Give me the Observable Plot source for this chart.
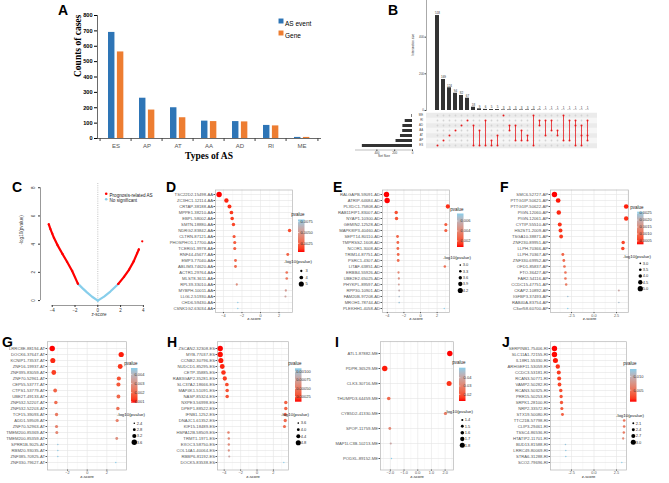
<!DOCTYPE html>
<html><head><meta charset="utf-8">
<script src="https://cdn.jsdelivr.net/npm/d3@7"></script>
<script src="https://cdn.jsdelivr.net/npm/@observablehq/plot@0.6"></script>
<style>
body{margin:0;background:#fff;}
#fig{position:relative;width:669px;height:483px;overflow:hidden;background:#fff;font-family:'Liberation Sans',Arial,Helvetica,sans-serif;}
.letter{position:absolute;font-weight:bold;font-size:14px;line-height:14px;color:#000;}
</style></head><body><div id="fig"></div>
<script>
// ---------------- Panel A ----------------
const asTypes = ["ES","AP","AT","AA","AD","RI","ME"];
const asEventCounts = [690,262,200,113,110,85,7];
const asGeneCounts = [563,185,135,110,108,82,7];
const countTicks = [0,100,200,300,400,500,600,700,800];

// ---------------- Panel B (UpSet) ----------------
const upsetSets = ["ME","RI","AD","AA","AT","AP","ES"];
const upsetSetSizes = [7,82,108,110,135,185,563];
const upsetIntersections = [["ES"],["AP"],["AT"],["AA"],["AD"],["RI"],["AD","ES"],["AA","ES"],["RI","ES"],["AP","ES"],["AT","ES"],["ME"],["AD","AA"],["AD","AP"],["AA","AP"],["AT","AP"],["ME","ES"],["RI","AD"],["RI","AT"],["RI","AA"],["AA","AT"],["ME","AP"],["RI","AP"],["RI","AD","ES"],["AD","AT","ES"],["RI","AT","AP"]];
const upsetCounts = [518,169,124,94,82,67,18,9,6,5,5,3,3,3,3,3,3,2,1,1,1,1,1,1,1,1];
const intersectionTicks = [0,200,400];
const setSizeTicks = [0,200,400];

// ---------------- Panel C (volcano) ----------------
const volLeftSigZ = [-4.30,-4.15,-4.00,-3.85,-3.55,-3.10,-2.70,-2.25,-1.75];
const volLeftSigY = [5.40,5.05,4.75,4.45,3.95,3.30,2.75,2.10,1.20];
const volLeftNsZ = [-1.75,-1.35,-0.95,-0.50,0];
const volLeftNsY = [1.20,0.88,0.58,0.27,0];
const volRightNsZ = [0,0.55,1.10,1.80];
const volRightNsY = [0,0.28,0.64,1.18];
const volRightSigZ = [1.80,2.30,2.75,3.15,3.45,3.60];
const volRightSigY = [1.18,1.68,2.20,2.78,3.35,3.62];
const volOutlierZ = [3.90];
const volOutlierY = [4.20];
const volXTicks = [-4,-2,0,2,4];
const volYTicks = [0,2,4,6,8];

// ---------------- Panel D (AA) ----------------
const dLabels = ["TSC22D2-15498-AA","ZC3HC1-12114-AA","CRTAP-38188-AA","MPPE1-38210-AA","EBPL-58002-AA","SMTN-18880-AA","NDRG2-83842-AA","CLTRN-87121-AA","PHOSPHO1-17700-AA","TCERG1-9978-AA","RNF44-45677-AA","EMP3-77040-AA","ABLIM3-74620-AA","ACTR1-29764-AA","MLST8-3611-AA","RPL39-33010-AA","MYBPH-10011-AA","LLGL2-51930-AA","CHD6-59430-AA","CSNK1G2-63034-AA"];
const dZ = [-4.47,-3.68,-3.35,-3.14,-3.06,-2.92,3.14,-2.85,-2.78,-2.78,2.95,-2.70,-2.70,2.84,2.84,-2.56,2.74,2.70,-2.45,-2.45];
const dP = [0.0005,0.0008,0.0010,0.0012,0.0013,0.0015,0.0017,0.0020,0.0022,0.0023,0.0025,0.0027,0.0028,0.0032,0.0034,0.0045,0.0052,0.0056,0.0078,0.0080];
const dS = [5.2,4.5,4.2,4.0,3.9,3.8,3.8,3.6,3.6,3.6,3.5,3.4,3.4,3.3,3.3,3.0,3.0,2.9,2.4,2.4];
const dPTicks = ["0.0025","0.0050","0.0075"];
const dSizeBreaks = ["3","4","5"];

// ---------------- Panel E (AD) ----------------
const eLabels = ["RALGAPB-59091-AD","ATRIP-64684-AD","PLXDC1-75808-AD","RAB11FIP1-83007-AD","NYAP1-10300-AD","GEMIN2-12528-AD","MAPK8IP3-40460-AD","SEPT14-80110-AD","TMPRSS2-1608-AD","NCOR1-3008-AD","TRIM14-87751-AD","PSRC1-4307-AD","LITAF-63851-AD","ERBB4-55926-AD","UBE2E2-65025-AD","PHYKPL-89597-AD","RPP30-10901-AD","FAM20B-97208-AD","MROH1-78744-AD","PLEKHH1-4058-AD"];
const eZ = [-4.10,-4.02,3.29,-2.93,-2.89,3.05,3.05,-2.77,-2.73,-2.73,-2.69,-2.69,2.93,-2.65,-2.61,-2.61,-2.57,-2.57,-2.57,2.86];
const eP = [0.0008,0.0008,0.0012,0.0020,0.0021,0.0024,0.0024,0.0027,0.0027,0.0028,0.0028,0.0029,0.0031,0.0040,0.0045,0.0052,0.0058,0.0066,0.0070,0.0075];
const eS = [4.3,4.3,3.9,3.6,3.6,3.5,3.5,3.4,3.4,3.4,3.4,3.4,3.3,3.2,3.2,3.1,3.1,3.0,3.0,2.9];
const ePTicks = ["0.002","0.004","0.006"];
const eSizeBreaks = ["3.0","3.3","3.6","3.9","4.2"];

// ---------------- Panel F (AP) ----------------
const fLabels = ["SMC6-52727-AP","PTTG1IP-50621-AP","PTTG1IP-50622-AP","PIGN-12060-AP","PIGN-12061-AP","CYTIP-55510-AP","HS2ST1-2009-AP","TSGA10-38871-AP","ZNF230-89951-AP","LLPH-70366-AP","LLPH-70367-AP","ZNF330-69952-AP","OFD1-85837-AP","FTO-36427-AP","FAR2-54116-AP","CCDC15-47751-AP","CKAP2-10892-AP","IGFBP3-37493-AP","RAB40A-83754-AP","C3orf58-60700-AP"];
const fZ = [-4.39,-3.98,3.57,-3.91,3.57,-3.80,-3.72,-3.65,3.24,3.20,-3.46,-3.35,-3.28,-3.17,-3.17,-3.09,2.76,-2.91,2.76,-2.91];
const fP = [0.00026,0.0003,0.00033,0.00036,0.0004,0.00042,0.00045,0.0005,0.00058,0.0006,0.0009,0.0010,0.00105,0.0011,0.0011,0.0012,0.0019,0.0024,0.0023,0.0026];
const fS = [5.1,4.7,4.6,4.55,4.5,4.3,4.25,4.2,4.0,4.0,3.7,3.6,3.55,3.5,3.5,3.45,3.1,2.9,2.9,2.8];
const fPTicks = ["0.0005","0.0010","0.0015","0.0020","0.0025"];
const fSizeBreaks = ["3.0","3.5","4.0","4.5","5.0"];

// ---------------- Panel G (AT) ----------------
const gLabels = ["LRRC8E-88194-AT","DOCK6-37647-AT","KCNIP1-73537-AT","ZNF16-19937-AT","ZNF395-83059-AT","ZNF70-52961-AT","CEP55-53777-AT","CTPS1-53779-AT","UBE2T-49133-AT","ZNF532-52207-AT","ZNF532-52203-AT","TCF15-39093-AT","ADD1-59509-AT","ZNF70-52963-AT","TMEM200-85369-AT","TMEM200-85359-AT","SPRR1B-9025-AT","RBM20-93035-AT","ZNF385-70925-AT","ZNF330-79627-AT"];
const gZ = [-3.56,3.46,-3.50,3.36,-3.40,3.22,3.18,-3.26,3.18,-3.19,3.12,-3.12,3.05,-3.12,-3.09,3.01,-2.99,-2.99,-2.99,2.91];
const gP = [0.0009,0.0010,0.0011,0.0012,0.0013,0.0016,0.0017,0.0019,0.0020,0.0021,0.0022,0.0024,0.0025,0.0026,0.0027,0.0029,0.0045,0.0046,0.0046,0.0047];
const gS = [3.6,3.55,3.5,3.45,3.4,3.2,3.2,3.1,3.1,3.0,3.0,2.95,2.9,2.9,2.85,2.8,2.4,2.4,2.4,2.35];
const gPTicks = ["0.001","0.002","0.003","0.004"];
const gSizeBreaks = ["2.4","2.8","3.2","3.6"];

// ---------------- Panel H (ES) ----------------
const hLabels = ["ZSCAN2-32308-ES","MYB-77037-ES","CCNB2-30796-ES","NUDCD1-85295-ES","CETP-35885-ES","RAB3GAP2-35281-ES","SLC37A2-18666-ES","MAP4K1-51091-ES","NASP-85324-ES","NXPE3-56998-ES","DPEP1-88522-ES","IFNB1-1252-ES","DNAJC1-61352-ES","KIF15-18489-ES","HSPA12B-58509-ES","TRMT1-1971-ES","EXOC3-58750-ES","COL14A1-40064-ES","RBBP6-81192-ES","DOCK5-83538-ES"];
const hZ = [-4.49,-4.49,-4.41,-4.24,-4.09,-3.93,-3.68,-3.64,-3.64,3.51,3.51,3.44,3.44,3.35,-3.48,-3.44,-3.44,-3.44,-3.39,3.27];
const hP = [0.0001,0.00011,0.00012,0.00014,0.00017,0.0002,0.00026,0.00028,0.00029,0.00036,0.00037,0.00039,0.0004,0.00042,0.00055,0.0006,0.00062,0.00065,0.0008,0.0011];
const hS = [4.9,4.85,4.8,4.7,4.6,4.5,4.3,4.25,4.25,4.2,4.2,4.15,4.15,4.1,3.9,3.85,3.85,3.8,3.75,3.5];
const hPTicks = ["0.00025","0.00050","0.00075","0.00100"];
const hSizeBreaks = ["3.6","4.0","4.4","4.8"];

// ---------------- Panel I (ME) ----------------
const iLabels = ["ATL1-87882-ME","PDPR-36529-ME","CLK3-30716-ME","THUMPD3-64459-ME","CYB5D2-41330-ME","SPOP-11759-ME","MAP1LC3B-10213-ME","PODXL-89152-ME"];
const iZ = [2.34,-2.41,2.29,-2.12,2.02,-2.04,-1.97,-1.92];
const iP = [0.012,0.013,0.015,0.024,0.028,0.031,0.040,0.052];
const iS = [1.85,1.85,1.8,1.6,1.55,1.5,1.4,1.3];
const iPTicks = ["0.02","0.03","0.04"];
const iSizeBreaks = ["1.4","1.5","1.6","1.7","1.8"];

// ---------------- Panel J (RI) ----------------
const jLabels = ["SERPINB1-75406-RI","SLC11A1-72155-RI","IL18R1-55330-RI","ARHGEF11-53059-RI","CCDC3-53181-RI","RCAN3-50771-RI","VAMP2-50282-RI","RCAN3-50325-RI","PRR15-50253-RI","SRPK1-28100-RI","NRP2-33572-RI","STX19-50080-RI","TTC21B-57798-RI","CLIP3-29461-RI","TSSC4-86536-RI","HTATIP2-11701-RI","BUD13-81588-RI","LRRC49-80069-RI","STRA6-31288-RI","SCO2-79696-RI"];
const jZ = [-4.39,-4.39,-4.28,-4.02,-3.91,-3.87,-3.83,-3.69,-3.65,-3.61,-3.57,-3.50,3.35,3.35,3.31,3.24,-3.17,-3.13,-3.13,3.09];
const jP = [0.00079,0.00085,0.0010,0.0016,0.0019,0.0021,0.0023,0.0028,0.0031,0.0033,0.0035,0.0038,0.0052,0.0054,0.0056,0.0068,0.0120,0.0122,0.0124,0.0127];
const jS = [3.1,3.1,3.0,2.8,2.7,2.7,2.65,2.55,2.5,2.5,2.45,2.4,2.3,2.3,2.25,2.2,2.0,2.0,2.0,1.95];
const jPTicks = ["0.005","0.010"];
const jSizeBreaks = ["2.1","2.4","2.7","3.0"];

// ================= rendering =================
const FONT = "'Liberation Sans', Arial, Helvetica, sans-serif";
const SERIF = "'Liberation Serif', 'Times New Roman', serif";
const W = 669, H = 483;
const fig = document.getElementById("fig");

function overlay(box, options) {
  const svg = Plot.plot({
    width: W, height: H,
    marginLeft: box[0], marginRight: W - box[1],
    marginTop: box[2], marginBottom: H - box[3],
    style: `background: transparent; overflow: visible; font-family: ${FONT};`,
    ...options
  });
  svg.style.position = "absolute";
  svg.style.left = "0px";
  svg.style.top = "0px";
  fig.appendChild(svg);
  return svg;
}

// ---- A ----
{
  const rows = asTypes.map((t, i) => ({type: t, events: asEventCounts[i], genes: asGeneCounts[i]}));
  const box = [97, 320, 15, 138];
  const step = (box[1] - box[0]) / asTypes.length;
  const blue = "#2E75B6", orange = "#ED7D31";
  overlay(box, {
    x: {domain: asTypes, padding: 0, axis: null},
    y: {domain: [0, 800], axis: null},
    marks: [
      Plot.barY(rows, {x: "type", y: "events", fill: blue, insetLeft: 8, insetRight: step - 15.3}),
      Plot.barY(rows, {x: "type", y: "genes", fill: orange, insetLeft: 16.9, insetRight: step - 24.2}),
      Plot.frame({anchor: "left", stroke: "#444", strokeWidth: 0.8}),
      Plot.frame({anchor: "bottom", stroke: "#444", strokeWidth: 0.8}),
      Plot.axisY({ticks: countTicks, tickSize: 3, tickPadding: 2, fontSize: 5.6, fontWeight: "bold", label: null}),
      Plot.axisX({tickSize: 0, tickPadding: 5, fontSize: 6, color: "#555", label: null}),
      Plot.axisX({tickSize: 3, tickFormat: () => "", dx: -step / 2, label: null, color: "#444"}),
      Plot.axisX({ticks: [asTypes[asTypes.length - 1]], tickSize: 3, tickFormat: () => "", dx: step / 2, label: null, color: "#444"}),
      Plot.text(["Types of AS"], {text: d => d, frameAnchor: "bottom", dy: 20, fontSize: 9.5, fontWeight: "bold", fontFamily: SERIF}),
      Plot.text(["Counts of cases"], {text: d => d, frameAnchor: "left", dx: -19.5, rotate: -90, fontSize: 9.5, fontWeight: "bold", fontFamily: SERIF}),
      Plot.dot(["AS event"], {frameAnchor: "top-right", dx: -39.5, dy: 5.5, symbol: "square", r: 2.8, fill: blue}),
      Plot.text(["AS event"], {text: d => d, frameAnchor: "top-right", dx: -35.5, dy: 5.5, textAnchor: "start", fontSize: 6.5}),
      Plot.dot(["Gene"], {frameAnchor: "top-right", dx: -39.5, dy: 17.5, symbol: "square", r: 2.8, fill: orange}),
      Plot.text(["Gene"], {text: d => d, frameAnchor: "top-right", dx: -35.5, dy: 17.5, textAnchor: "start", fontSize: 6.5})
    ]
  });
}

// ---- B ----
{
  const ids = upsetIntersections.map((_, i) => String(i + 1));
  const cols = upsetIntersections.map((sets, i) => {
    const idx = sets.map(s => upsetSets.indexOf(s));
    return {id: ids[i], sets, count: upsetCounts[i], top: upsetSets[d3.min(idx)], bottom: upsetSets[d3.max(idx)]};
  });
  const cells = [];
  cols.forEach(c => upsetSets.forEach(s => cells.push({id: c.id, set: s, on: c.sets.includes(s)})));
  const setRows = upsetSets.map((s, i) => ({set: s, size: upsetSetSizes[i]}));
  const matBox = [426, 597, 111.3, 149.5];
  const rowStep = (matBox[3] - matBox[2]) / upsetSets.length;

  overlay([426, 597, 0, 110], {
    x: {type: "band", domain: ids, padding: 0.4, axis: null},
    y: {domain: [0, 600], axis: null},
    marks: [
      Plot.barY(cols, {x: "id", y: "count", fill: "#333"}),
      Plot.text(cols, {x: "id", y: "count", text: d => String(d.count), dy: -2.2, fontSize: 3, fill: "#333"}),
      Plot.frame({anchor: "left", stroke: "#555", strokeWidth: 0.5}),
      Plot.axisY({ticks: intersectionTicks, tickSize: 1.5, tickPadding: 1, fontSize: 3, label: null, color: "#444"}),
      Plot.text(["Intersection size"], {text: d => d, frameAnchor: "left", dx: -13, rotate: -90, fontSize: 3, fill: "#333"})
    ]
  });

  overlay(matBox, {
    x: {type: "band", domain: ids, padding: 0.4, axis: null},
    y: {type: "point", domain: upsetSets, padding: 0.5, axis: null},
    marks: [
      Plot.ruleY(upsetSets, {y: d => d, filter: (d, i) => i % 2 === 0, stroke: "#ebebeb", strokeWidth: rowStep}),
      Plot.ruleY(upsetSets, {y: d => d, filter: (d, i) => i % 2 === 1, stroke: "#f6f6f6", strokeWidth: rowStep}),
      Plot.dot(cells.filter(d => !d.on), {x: "id", y: "set", r: 0.9, fill: "#d2d2d2"}),
      Plot.ruleX(cols.filter(d => d.sets.length > 1), {x: "id", y1: "top", y2: "bottom", stroke: "#e8474a", strokeWidth: 1}),
      Plot.dot(cells.filter(d => d.on), {x: "id", y: "set", r: 1.0, fill: "#e41a1c"}),
      Plot.axisY({tickSize: 0, tickPadding: 3.5, fontSize: 2.8, label: null, color: "#444"})
    ]
  });

  overlay([355, 412, matBox[2], matBox[3]], {
    x: {domain: [0, 640], reverse: true, axis: null},
    y: {type: "band", domain: upsetSets, padding: 0.42, axis: null},
    marks: [
      Plot.barX(setRows, {y: "set", x: "size", fill: "#333"}),
      Plot.frame({anchor: "bottom", stroke: "#555", strokeWidth: 0.4}),
      Plot.axisX({ticks: setSizeTicks, tickSize: 1.5, tickPadding: 0.8, fontSize: 3, label: null, color: "#444"}),
      Plot.text(["Set Size"], {text: d => d, frameAnchor: "bottom", dy: 7.2, fontSize: 3.2, fill: "#333"})
    ]
  });
}

// ---- C ----
{
  const seg = (name, zs, ys) => zs.map((z, i) => ({seg: name, z, y: ys[i]}));
  const sig = [...seg("L", volLeftSigZ, volLeftSigY), ...seg("R", volRightSigZ, volRightSigY)];
  const ns = [...seg("L", volLeftNsZ, volLeftNsY), ...seg("R", volRightNsZ, volRightNsY)];
  const out = seg("O", volOutlierZ, volOutlierY);
  const xDom = [-5.03, 5.24], yDom = [-0.35, 8.3];
  const red = "#FF0000", sky = "#87CEEB";
  overlay([40, 157, 183, 305], {
    x: {domain: xDom, axis: null},
    y: {domain: yDom, axis: null},
    marks: [
      Plot.ruleX([0], {stroke: "#9a9a9a", strokeDasharray: "1,1.2", strokeWidth: 0.6}),
      Plot.line(ns, {x: "z", y: "y", z: "seg", stroke: sky, strokeWidth: 2.2}),
      Plot.line(sig, {x: "z", y: "y", z: "seg", stroke: red, strokeWidth: 2.2}),
      Plot.dot([...sig, ...out], {x: "z", y: "y", r: 1.15, fill: red}),
      Plot.ruleX([xDom[0]], {y1: volYTicks[0], y2: volYTicks[volYTicks.length - 1], stroke: "#333", strokeWidth: 0.5}),
      Plot.axisY({ticks: volYTicks, tickSize: 2, tickFormat: () => "", label: null, color: "#333"}),
      Plot.text(volYTicks, {x: xDom[0], y: d => d, text: d => String(d), rotate: -90, dx: -6.5, fontSize: 4.5, fill: "#333"}),
      Plot.ruleY([yDom[0]], {x1: volXTicks[0], x2: volXTicks[volXTicks.length - 1], stroke: "#333", strokeWidth: 0.5}),
      Plot.axisX({ticks: volXTicks, tickSize: 2, tickPadding: 1, fontSize: 4.5, label: null, color: "#333"}),
      Plot.text(["z-score"], {text: d => d, frameAnchor: "bottom", dy: 10, fontSize: 4.6, fill: "#333"}),
      Plot.text(["-log10(pvalue)"], {text: d => d, frameAnchor: "left", dx: -19.3, rotate: -90, fontSize: 4.6, fill: "#333"}),
      Plot.dot(["Prognosis-related AS"], {frameAnchor: "top-left", dx: 65.7, dy: 10.3, r: 1.3, fill: red}),
      Plot.text(["Prognosis-related AS"], {text: d => d, frameAnchor: "top-left", dx: 69, dy: 10.3, textAnchor: "start", fontSize: 4.6, fill: "#222"}),
      Plot.dot(["No significant"], {frameAnchor: "top-left", dx: 65.7, dy: 15.7, r: 1.3, fill: sky}),
      Plot.text(["No significant"], {text: d => d, frameAnchor: "top-left", dx: 69, dy: 15.7, textAnchor: "start", fontSize: 4.6, fill: "#222"})
    ]
  });
}

// ---- D..J dot plots ----
const P_LOW = "#FF0000", P_HIGH = "#8ACDEA";
function legendMark(c) {
  return (index, scales) => {
    const L = c.legend;
    const color = scales.color, r = scales.r;
    const ext = d3.extent(c.p);
    const gid = "grad" + c.key;
    const g = d3.create("svg:g").attr("font-family", FONT).attr("fill", "#222");
    const grad = g.append("defs").append("linearGradient").attr("id", gid)
      .attr("x1", 0).attr("y1", 1).attr("x2", 0).attr("y2", 0);
    for (let k = 0; k <= 10; k++) grad.append("stop").attr("offset", k / 10).attr("stop-color", color(ext[0] + (ext[1] - ext[0]) * k / 10));
    g.append("text").attr("x", L.x).attr("y", L.pTitle).attr("font-size", 4.5).text("pvalue");
    const bw = 6.5;
    g.append("rect").attr("x", L.x).attr("y", L.bar[0]).attr("width", bw).attr("height", L.bar[1] - L.bar[0]).attr("fill", `url(#${gid})`);
    const ly = d3.scaleLinear().domain(ext).range([L.bar[1], L.bar[0]]);
    c.pTicks.forEach(t => {
      const y = ly(+t);
      g.append("line").attr("x1", L.x).attr("x2", L.x + 1.3).attr("y1", y).attr("y2", y).attr("stroke", "#fff").attr("stroke-width", 0.5);
      g.append("line").attr("x1", L.x + bw - 1.3).attr("x2", L.x + bw).attr("y1", y).attr("y2", y).attr("stroke", "#fff").attr("stroke-width", 0.5);
      g.append("text").attr("x", L.x + bw + 2).attr("y", y).attr("dy", "0.35em").attr("font-size", 4).attr("fill", "#333").text(t);
    });
    g.append("text").attr("x", L.x).attr("y", L.sTitle).attr("font-size", 4.4).text("-log10(pvalue)");
    c.sizeBreaks.forEach((b, i) => {
      g.append("circle").attr("cx", L.x + 3.3).attr("cy", L.sizes[i]).attr("r", r(+b)).attr("fill", "#000");
      g.append("text").attr("x", L.x + bw + 2).attr("y", L.sizes[i]).attr("dy", "0.35em").attr("font-size", 4).attr("fill", "#333").text(b);
    });
    return g.node();
  };
}

function dotPanel(c) {
  const rows = c.labels.map((label, i) => ({label, z: c.z[i], p: c.p[i], s: c.s[i]}));
  const step = c.ticks[1] - c.ticks[0];
  const minor = [];
  for (let t = c.ticks[0] - step / 2; t <= c.xDomain[1]; t += step) if (t >= c.xDomain[0]) minor.push(t);
  overlay(c.box, {
    x: {domain: c.xDomain, axis: null},
    y: {type: "point", domain: c.labels, padding: 0.6, axis: null},
    r: {type: "linear", domain: d3.extent(c.s), range: [0.7, 2.7]},
    color: {type: "linear", domain: d3.extent(c.p), range: [P_LOW, P_HIGH], interpolate: "lab"},
    marks: [
      Plot.gridX({ticks: minor, stroke: "#f1f1f1", strokeOpacity: 1, strokeWidth: 0.4}),
      Plot.gridX({ticks: c.ticks, stroke: "#e4e4e4", strokeOpacity: 1, strokeWidth: 0.6}),
      Plot.gridY({stroke: "#e4e4e4", strokeOpacity: 1, strokeWidth: 0.6}),
      Plot.frame({stroke: "#b5b5b5", strokeWidth: 0.7}),
      Plot.dot(rows, {x: "z", y: "label", r: "s", fill: "p"}),
      Plot.axisY({tickSize: 1.5, tickPadding: 1, fontSize: 4.2, color: "#555", label: null}),
      Plot.axisX({ticks: c.ticks, tickFormat: c.fmt, tickSize: 1.2, tickPadding: 0.2, fontSize: 3.8, color: "#555", label: null}),
      Plot.text(["z-score"], {text: d => d, frameAnchor: "bottom", dy: 7.8, fontSize: 4.2, fill: "#222"}),
      legendMark(c)
    ]
  });
}

const fmt1 = d => d.toFixed(1);
dotPanel({key: "D", labels: dLabels, z: dZ, p: dP, s: dS, pTicks: dPTicks, sizeBreaks: dSizeBreaks,
  box: [215, 292, 189.5, 312], xDomain: [-4.86, 3.46], ticks: [-4, -2, 0, 2],
  legend: {x: 298, pTitle: 216, bar: [219.5, 252], sTitle: 263, sizes: [271, 277.5, 284]}});
dotPanel({key: "E", labels: eLabels, z: eZ, p: eP, s: eS, pTicks: ePTicks, sizeBreaks: eSizeBreaks,
  box: [382, 449, 189.5, 312], xDomain: [-4.58, 3.49], ticks: [-4, -2, 0, 2],
  legend: {x: 457, pTitle: 210.5, bar: [213.5, 247], sTitle: 259, sizes: [265, 271.3, 277.7, 284, 290.5]}});
dotPanel({key: "F", labels: fLabels, z: fZ, p: fP, s: fS, pTicks: fPTicks, sizeBreaks: fSizeBreaks,
  box: [550, 628, 189.5, 312], xDomain: [-4.83, 3.83], ticks: [-2.5, 0, 2.5], fmt: fmt1,
  legend: {x: 637, pTitle: 209, bar: [211.7, 244.3], sTitle: 257.5, sizes: [263.3, 269.7, 276, 282.3, 288.7]}});
dotPanel({key: "G", labels: gLabels, z: gZ, p: gP, s: gS, pTicks: gPTicks, sizeBreaks: gSizeBreaks,
  box: [47, 126, 341.2, 469.5], xDomain: [-4.04, 4.0], ticks: [-2, 0, 2],
  legend: {x: 131, pTitle: 364.5, bar: [368, 402.7], sTitle: 416, sizes: [423.3, 429.7, 436, 442.3]}});
dotPanel({key: "H", labels: hLabels, z: hZ, p: hP, s: hS, pTicks: hPTicks, sizeBreaks: hSizeBreaks,
  box: [217, 288, 341.2, 469.5], xDomain: [-4.82, 3.84], ticks: [-4, -2, 0, 2],
  legend: {x: 295, pTitle: 364.5, bar: [368.3, 401.7], sTitle: 416, sizes: [423, 429.7, 436.3, 442.7]}});
dotPanel({key: "I", labels: iLabels, z: iZ, p: iP, s: iS, pTicks: iPTicks, sizeBreaks: iSizeBreaks,
  box: [380, 453, 341.2, 469.5], xDomain: [-2.72, 2.61], ticks: [-2, -1, 0, 1, 2],
  legend: {x: 459, pTitle: 363.5, bar: [367.7, 401], sTitle: 412.5, sizes: [420, 426.3, 432.7, 439, 445.3]}});
dotPanel({key: "J", labels: jLabels, z: jZ, p: jP, s: jS, pTicks: jPTicks, sizeBreaks: jSizeBreaks,
  box: [550, 626, 341.2, 469.5], xDomain: [-4.83, 3.61], ticks: [-2.5, 0, 2.5], fmt: fmt1,
  legend: {x: 630, pTitle: 365, bar: [369, 401.7], sTitle: 417, sizes: [423.3, 429.7, 436, 442.3]}});

// ---- panel letters ----
const panelLetters = [["A",58,5],["B",388,5],["C",12,182],["D",166,182],["E",333,182],["F",500,182],["G",2,337],["H",167,337],["I",335,337],["J",502,337]];
panelLetters.forEach(([t, x, y]) => {
  const d = document.createElement("div");
  d.className = "letter";
  d.textContent = t;
  d.style.left = x + "px";
  d.style.top = (y - 2) + "px";
  fig.appendChild(d);
});
</script></body></html>
